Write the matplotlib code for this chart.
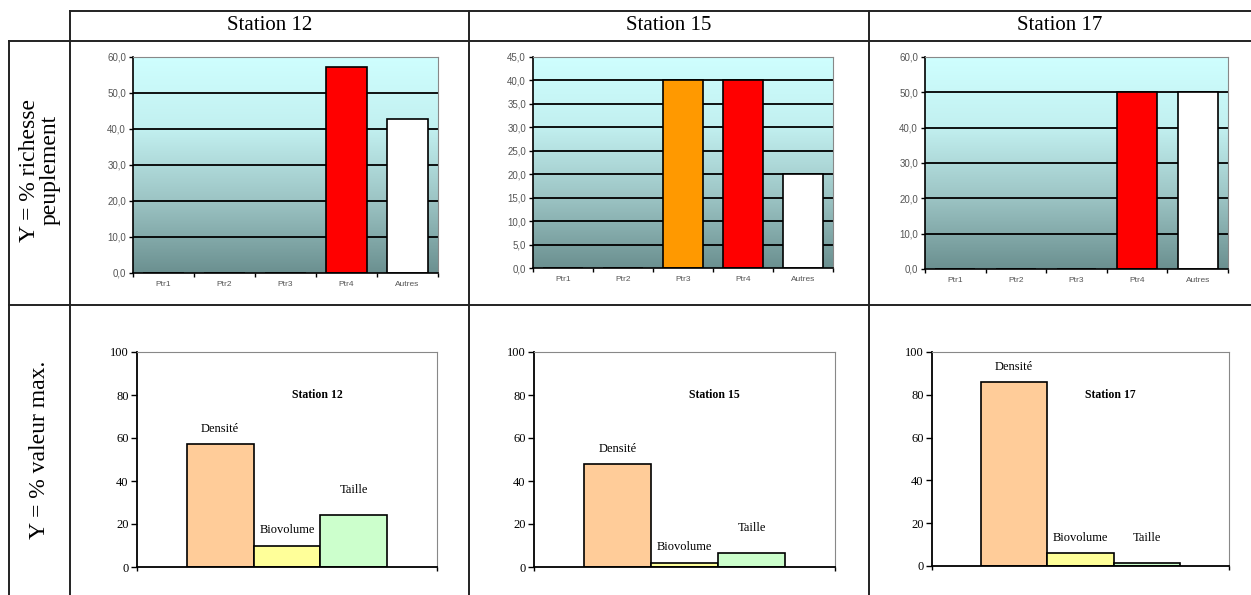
import numpy as np
import matplotlib
matplotlib.use("Agg")
import matplotlib.pyplot as plt
from matplotlib.lines import Line2D
from matplotlib.colors import LinearSegmentedColormap

# ---- data ----
stations = ["Station 12", "Station 15", "Station 17"]
groups = ["Ptr1", "Ptr2", "Ptr3", "Ptr4", "Autres"]
group_colors = ["#3366ff", "#33cc33", "#ff9900", "#ff0000", "#ffffff"]
richesse_s12 = [0.0, 0.0, 0.0, 57.1, 42.9]
richesse_s15 = [0.0, 0.0, 40.0, 40.0, 20.0]
richesse_s17 = [0.0, 0.0, 0.0, 50.0, 50.0]
richesse_ymax = [60, 45, 60]
richesse_ystep = [10, 5, 10]

metrics = ["Densité", "Biovolume", "Taille"]
metric_colors = ["#ffcc99", "#ffff99", "#ccffcc"]
valeur_s12 = [57, 10, 24]
valeur_s15 = [48, 2, 6.5]
valeur_s17 = [86, 6, 1.5]

row_labels = ["Y = % richesse\npeuplement", "Y = % valeur max."]

# ---- figure ----
W, H = 1251, 595
fig = plt.figure(figsize=(W / 100, H / 100), dpi=100)
fig.patch.set_facecolor("white")

SERIF = ["Liberation Serif", "DejaVu Serif"]
SANS = ["Liberation Sans", "DejaVu Sans"]


def px_axes(x0, y0, x1, y1):
    return fig.add_axes([x0 / W, 1 - y1 / H, (x1 - x0) / W, (y1 - y0) / H])


# table frame
def hline(y, x0, x1):
    fig.add_artist(Line2D([x0 / W, x1 / W], [1 - y / H, 1 - y / H],
                          color="#222222", lw=1.4))


def vline(x, y0, y1):
    fig.add_artist(Line2D([x / W, x / W], [1 - y0 / H, 1 - y1 / H],
                          color="#222222", lw=1.4))


hline(11, 70, W)
hline(41, 9, W)
hline(305, 9, W)
vline(9, 41, H)
vline(70, 11, H)
vline(469, 11, H)
vline(869, 11, H)

col_centers = [270, 669, 1060]
for name, cx in zip(stations, col_centers):
    fig.text(cx / W, 1 - 26 / H, name, ha="center", va="center",
             fontsize=15, family=SERIF)

fig.text(40 / W, 1 - 170 / H, row_labels[0], ha="center", va="center",
         rotation=90, fontsize=17, family=SERIF, linespacing=0.95)
fig.text(40 / W, 1 - 450 / H, row_labels[1], ha="center", va="center",
         rotation=90, fontsize=17, family=SERIF)

# ---- top row: richness by group ----
top_boxes = [(133, 57, 438, 273), (533, 57, 833, 268), (925, 57, 1228, 269)]
richesse = [richesse_s12, richesse_s15, richesse_s17]
grad = LinearSegmentedColormap.from_list(
    "plot_bg", ["#6b9090", "#9cc4c4", "#c2f0f0", "#cfffff"])
gimg = np.linspace(0, 1, 256).reshape(-1, 1)

for box, vals, ymax, ystep in zip(top_boxes, richesse, richesse_ymax, richesse_ystep):
    ax = px_axes(*box)
    ax.imshow(gimg, extent=[0, 1, 0, 1], transform=ax.transAxes,
              cmap=grad, origin="lower", aspect="auto", zorder=0)
    x = np.arange(len(groups))
    yt = np.arange(0, ymax + 0.1, ystep)
    for v in yt[1:-1]:
        ax.axhline(v, color="black", lw=1.3, zorder=1)
    ax.bar(x, vals, width=0.66, color=group_colors, edgecolor="black",
           linewidth=1.2, zorder=2)
    ax.set_xlim(-0.5, len(groups) - 0.5)
    ax.set_ylim(0, ymax)
    ax.set_yticks(yt)
    ax.set_yticklabels([f"{v:.1f}".replace(".", ",") for v in yt],
                       fontsize=7, color="#555555", family=SANS)
    ax.set_xticks(np.arange(len(groups) + 1) - 0.5)
    ax.set_xticklabels([])
    ax.set_xticks(x, minor=True)
    ax.set_xticklabels(groups, minor=True, fontsize=6, color="#555555", family=SANS)
    ax.tick_params(axis="x", which="minor", length=0, pad=6)
    ax.tick_params(axis="x", which="major", length=3, width=1, color="black")
    ax.tick_params(axis="y", length=3, width=1, color="black", pad=2)
    for s in ("top", "right"):
        ax.spines[s].set_color("#888888")
        ax.spines[s].set_linewidth(0.8)
    for s in ("left", "bottom"):
        ax.spines[s].set_color("black")
        ax.spines[s].set_linewidth(1.2)

# ---- bottom row: percentage of maximum value ----
bottom_boxes = [(137, 352, 437, 567), (534, 352, 835, 567), (932, 352, 1229, 566)]
valeurs = [valeur_s12, valeur_s15, valeur_s17]
label_offsets = [11, 11, 18]

for box, vals, name in zip(bottom_boxes, valeurs, stations):
    ax = px_axes(*box)
    x = np.arange(len(metrics))
    ax.bar(x, vals, width=1.0, color=metric_colors, edgecolor="black",
           linewidth=1.2, zorder=2)
    for xi, v, lab, off in zip(x, vals, metrics, label_offsets):
        ax.annotate(lab, (xi, v), xytext=(0, off), textcoords="offset points",
                    ha="center", va="center", fontsize=9, family=SERIF, zorder=3)
    ax.text(0.6, 0.8, name, transform=ax.transAxes, ha="center", va="center",
            fontsize=8.5, fontweight="bold", family=SERIF)
    ax.set_xlim(-1.24, 3.24)
    ax.set_ylim(0, 100)
    ax.set_yticks(np.arange(0, 101, 20))
    ax.set_yticklabels([str(v) for v in range(0, 101, 20)],
                       fontsize=9, family=SERIF)
    ax.set_xticks([-1.24, 3.24])
    ax.set_xticklabels([])
    ax.tick_params(axis="y", length=4, width=1, color="black", pad=2)
    ax.tick_params(axis="x", length=3, width=1, color="black")
    for s in ("top", "right"):
        ax.spines[s].set_color("#888888")
        ax.spines[s].set_linewidth(0.8)
    for s in ("left", "bottom"):
        ax.spines[s].set_color("black")
        ax.spines[s].set_linewidth(1.3)

fig.savefig("out.png", dpi=100, facecolor="white")
